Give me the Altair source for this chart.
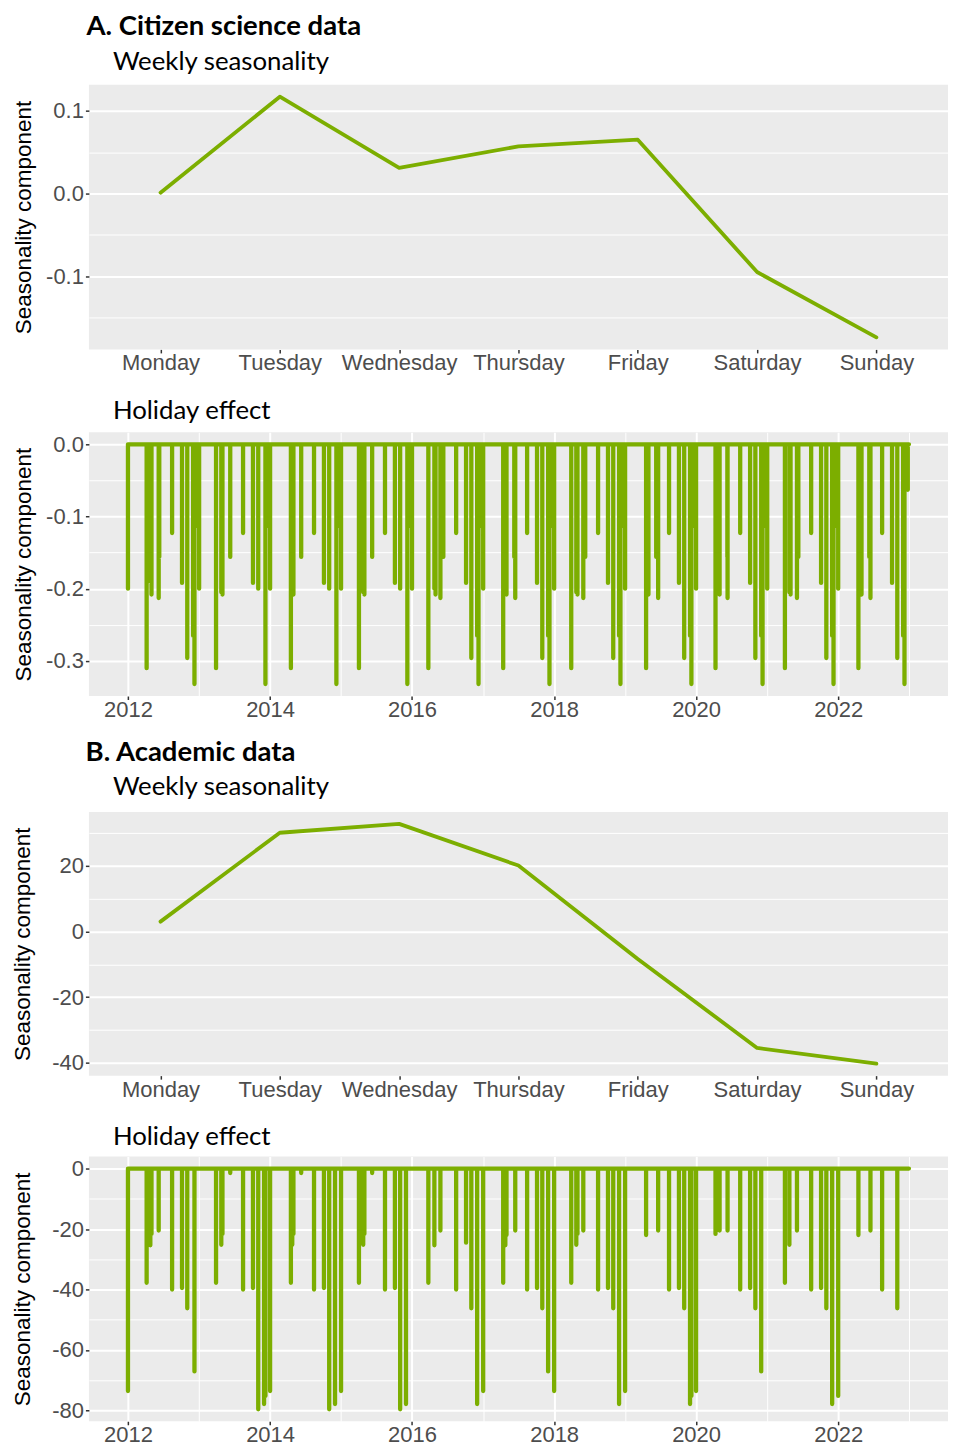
import altair as alt
import pandas as pd

GREEN = "#7CAE00"

# ---------------- weekly seasonality ----------------
days = ["Monday", "Tuesday", "Wednesday", "Thursday", "Friday", "Saturday", "Sunday"]
weekly_citizen = [0.001, 0.117, 0.031, 0.057, 0.065, -0.095, -0.174]
weekly_academic = [3.0, 30.1, 32.8, 20.1, -8.4, -35.5, -40.3]

# ---------------- holiday effect ----------------
series_start = "2012-01-01"
series_end = "2022-12-31"
years = [2012, 2013, 2014, 2015, 2016, 2017, 2018, 2019, 2020, 2021, 2022]
easter_sunday = ["2012-04-08", "2013-03-31", "2014-04-20", "2015-04-05", "2016-03-27",
                 "2017-04-16", "2018-04-01", "2019-04-21", "2020-04-12", "2021-04-04",
                 "2022-04-17"]

# one value per year (0 = no visible effect that year)
citizen_effects = {
    "new_year":    [-0.2, -0.2, -0.2, -0.2, -0.2, -0.2, -0.2, -0.2, -0.2, -0.2, -0.2],
    "good_friday": [-0.31, -0.31, -0.31, -0.31, -0.31, -0.31, -0.31, -0.31, -0.31, -0.31, -0.31],
    "apr25":       [-0.19, -0.205, -0.205, -0.205, -0.2, -0.205, -0.205, -0.205, -0.205, -0.205, -0.205],
    "may1":        [-0.208, -0.208, -0.208, -0.208, -0.208, -0.208, -0.208, -0.208, -0.208, -0.208, -0.208],
    "corpus":      [-0.213, 0, 0, 0, -0.213, -0.213, -0.213, -0.213, -0.213, -0.213, -0.213],
    "jun10":       [-0.156, -0.156, -0.156, -0.156, -0.156, -0.156, -0.156, -0.156, -0.156, -0.156, -0.156],
    "aug15":       [-0.123, -0.123, -0.123, -0.123, -0.123, -0.123, -0.123, -0.123, -0.123, -0.123, -0.123],
    "oct5":        [-0.192, -0.192, -0.192, -0.192, -0.192, -0.192, -0.192, -0.192, -0.192, -0.192, -0.192],
    "nov1":        [-0.296, -0.2, -0.2, -0.2, -0.296, -0.296, -0.296, -0.296, -0.296, -0.296, -0.296],
    "dec1":        [-0.265, 0, 0, 0, -0.265, -0.265, -0.265, -0.265, -0.265, -0.265, -0.265],
    "dec8":        [-0.332, -0.332, -0.332, -0.332, -0.332, -0.332, -0.332, -0.332, -0.332, -0.332, -0.332],
    "dec25":       [-0.113, -0.113, -0.113, -0.113, -0.113, -0.113, -0.113, -0.113, -0.113, -0.113, -0.063],
}
academic_effects = {
    "new_year":    [-73.6, 0, -73.6, -73.6, 0, -73.6, -73.6, -73.6, -73.6, 0, -75.2],
    "good_friday": [-37.8, -37.8, -37.8, -37.8, -37.8, -37.8, -37.8, -22.0, -21.6, -37.8, -22.0],
    "apr25":       [-25.4, -25.2, -25.2, -25.2, -25.4, -25.4, -25.2, 0, 0, -25.2, 0],
    "may1":        [-21.6, -21.6, -21.6, -21.6, 0, -22.0, -21.6, 0, -20.5, 0, 0],
    "corpus":      [-20.5, 0, 0, 0, -20.5, -20.5, -20.5, -20.5, -20.5, -20.5, -20.5],
    "jun10":       [0, -1.5, -1.5, -1.5, 0, 0, 0, 0, 0, 0, 0],
    "aug15":       [-40.0, -40.0, -40.0, -40.0, -40.0, -40.0, -40.0, -40.0, -40.0, -40.0, -40.0],
    "oct5":        [-39.5, -39.5, -39.5, -39.5, -24.5, -39.5, -39.5, -39.5, -39.5, -39.5, 0],
    "nov1":        [-46.2, -79.6, -79.6, -79.6, -46.2, -46.2, -46.2, -46.2, -46.2, -46.2, -46.2],
    "dec1":        [0, -77.9, -77.9, -77.9, -77.9, -67.1, -77.9, -77.9, -67.1, -77.9, 0],
    "dec8":        [-67.1, -75.2, 0, 0, 0, 0, 0, -75.2, 0, 0, 0],
    "dec25":       [0, 0, 0, 0, 0, 0, 0, 0, 0, 0, 0],
}

fixed_dates = {"new_year": "01-01", "apr25": "04-25", "may1": "05-01", "jun10": "06-10",
               "aug15": "08-15", "oct5": "10-05", "nov1": "11-01", "dec1": "12-01",
               "dec8": "12-08", "dec25": "12-25"}
easter_offsets = {"good_friday": -2, "corpus": 60}


def holiday_frame(effects):
    events = []
    for i, y in enumerate(years):
        easter = pd.Timestamp(easter_sunday[i])
        for name, vals in effects.items():
            if vals[i] == 0:
                continue
            if name in fixed_dates:
                d = pd.Timestamp(f"{y}-{fixed_dates[name]}")
            else:
                d = easter + pd.Timedelta(days=easter_offsets[name])
            events.append((d, vals[i]))
    events.sort(key=lambda t: t[0])
    pts = [(pd.Timestamp(series_start), 0.0)]
    for d, v in events:
        pts += [(d, 0.0), (d, v), (d, 0.0)]
    pts.append((pd.Timestamp(series_end), 0.0))
    df = pd.DataFrame(pts, columns=["ds", "holidays"])
    df["idx"] = range(len(df))
    return df


def dt(ts):
    return alt.DateTime(year=ts.year, month=ts.month, date=ts.day, hours=ts.hour)


def expand(lo, hi):
    r = hi - lo
    return [lo - 0.05 * r, hi + 0.05 * r]


LABEL_FONT = "Liberation Sans"
TITLE_FONT = "Lato"

t0, t1 = pd.Timestamp(series_start), pd.Timestamp(series_end)
span = t1 - t0
x_domain = [dt(t0 - 0.05 * span), dt(t1 + 0.05 * span)]
year_ticks = [alt.DateTime(year=y, month=1, date=1) for y in range(2012, 2024)]
year_major = "year(datum.value) % 2 == 0"


def num_axis(values, major_test, fmt, title_pad):
    return alt.Axis(
        values=values,
        labelExpr=f"({major_test}) ? replace(format(datum.value, '{fmt}'), '\u2212', '-') : ''",
        gridWidth={"condition": {"test": major_test, "value": 2}, "value": 1},
        tickOpacity={"condition": {"test": major_test, "value": 1}, "value": 0},
        title="Seasonality component",
        titlePadding=title_pad,
    )


def subtitle(text, dx, offset):
    return alt.Title(text, anchor="start", frame="group", dx=dx, font=TITLE_FONT,
                     fontSize=25.8, fontWeight="normal", color="black", offset=offset)


def weekly_chart(vals, yvalues, major_test, fmt, title_pad, dx, offset):
    df = pd.DataFrame({"day": days, "value": vals})
    return alt.Chart(df).mark_line(color=GREEN, strokeWidth=3.8, strokeJoin="round",
                                   strokeCap="round").encode(
        x=alt.X("day:N", sort=days, scale=alt.Scale(type="point", padding=0.6),
                axis=alt.Axis(labelAngle=0, gridWidth=2, title=None)),
        y=alt.Y("value:Q", scale=alt.Scale(domain=expand(min(vals), max(vals)), nice=False, zero=False),
                axis=num_axis(yvalues, major_test, fmt, title_pad)),
    ).properties(title=subtitle("Weekly seasonality", dx, offset))


def holiday_chart(effects, yvalues, major_test, fmt, title_pad, dx, offset):
    df = holiday_frame(effects)
    lo = min(min(v) for v in effects.values())
    return alt.Chart(df).mark_line(color=GREEN, strokeWidth=4.3, strokeJoin="round",
                                   strokeCap="round").encode(
        x=alt.X("ds:T", scale=alt.Scale(domain=x_domain, nice=False),
                axis=alt.Axis(values=year_ticks,
                              labelExpr=f"({year_major}) ? timeFormat(datum.value, '%Y') : ''",
                              gridWidth={"condition": {"test": year_major, "value": 2}, "value": 1},
                              tickOpacity={"condition": {"test": year_major, "value": 1}, "value": 0},
                              title=None)),
        y=alt.Y("holidays:Q", scale=alt.Scale(domain=expand(lo, 0), nice=False, zero=False),
                axis=num_axis(yvalues, major_test, fmt, title_pad)),
        order="idx:Q",
    ).properties(title=subtitle("Holiday effect", dx, offset))


A_major = "abs(datum.value * 10 - round(datum.value * 10)) < 0.001"
B_major = "datum.value % 20 == 0"
W = 860

wA = weekly_chart(weekly_citizen, [0.1, 0.05, 0, -0.05, -0.1, -0.15], A_major, ".1f", 10, 24, 9).properties(width=W, height=265)
hA = holiday_chart(citizen_effects, [0, -0.05, -0.1, -0.15, -0.2, -0.25, -0.3], A_major, ".1f", 10, 24, 8).properties(width=W, height=264)
wB = weekly_chart(weekly_academic, [30, 20, 10, 0, -10, -20, -30, -40], B_major, "d", 17, 24, 11).properties(width=W, height=264)
hB = holiday_chart(academic_effects, [0, -10, -20, -30, -40, -50, -60, -70, -80], B_major, "d", 17, 24, 6).properties(width=W, height=265)

sec_title = dict(anchor="start", frame="bounds", dx=74, font=TITLE_FONT, fontSize=27.5,
                 fontWeight="bold", color="black", offset=8)
secA = alt.vconcat(wA, hA, spacing=23, title=alt.Title("A. Citizen science data", **sec_title))
secB = alt.vconcat(wB, hB, spacing=23, title=alt.Title("B. Academic data", **sec_title))

chart = alt.concat(secA, secB, columns=1, spacing=17).configure(
    padding={"left": 3, "top": 4, "right": 0, "bottom": 0},
    background="white",
).configure_view(
    fill="#EBEBEB", stroke=None,
).configure_axis(
    domain=False,
    gridColor="white",
    labelFont=LABEL_FONT, labelFontSize=22, labelColor="#4D4D4D",
    tickColor="#333333", tickSize=3.5, tickWidth=1.5,
    titleFont=LABEL_FONT, titleFontSize=22.5, titleColor="black", titleFontWeight="normal",
).configure_axisY(
    labelPadding=2,
).configure_axisX(
    labelPadding=0,
)

chart.save("out.html", embed_options={"renderer": "svg", "actions": False})
